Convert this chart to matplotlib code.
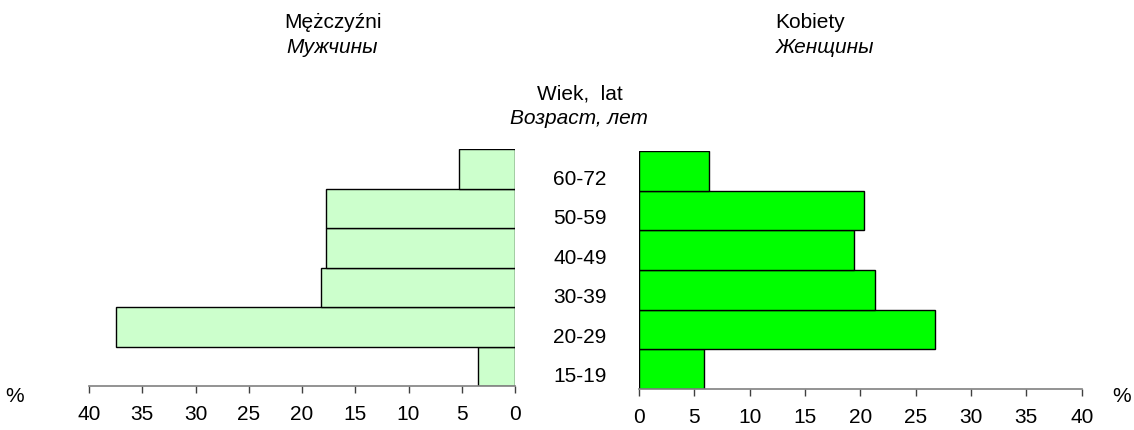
import matplotlib
matplotlib.use("Agg")
import matplotlib.pyplot as plt
import matplotlib.transforms as mtransforms

plt.rcParams['font.family'] = ['Liberation Sans', 'DejaVu Sans']

age_groups = ["15-19", "20-29", "30-39", "40-49", "50-59", "60-72"]
men = [3.5, 37.5, 18.2, 17.7, 17.7, 5.3]
women = [5.9, 26.7, 21.3, 19.4, 20.3, 6.3]
x_ticks = [0, 5, 10, 15, 20, 25, 30, 35, 40]

title_men = ("Mężczyźni", "Мужчины")
title_women = ("Kobiety", "Женщины")
title_age = ("Wiek,  lat", "Возраст, лет")

FS = 15

fig = plt.figure(figsize=(11.34, 4.30), dpi=100)
W, H = 1134, 430

def ax_rect(x0, x1, ytop, ybot):
    return [x0 / W, (H - ybot) / H, (x1 - x0) / W, (ybot - ytop) / H]

axL = fig.add_axes(ax_rect(89, 515, 149, 386))
axR = fig.add_axes(ax_rect(639, 1081.7, 151, 389))

ypos = list(range(len(age_groups)))
axL.barh(ypos, men, height=1.0, color="#CCFFCC", edgecolor="black", linewidth=1.0)
axR.barh(ypos, women, height=1.0, color="#00FF00", edgecolor="black", linewidth=1.0)

for ax in (axL, axR):
    ax.set_ylim(-0.5, len(age_groups) - 0.5)
    ax.set_yticks([])
    for s in ("top", "left", "right"):
        ax.spines[s].set_visible(False)
    ax.spines["bottom"].set_color("#808080")
    ax.spines["bottom"].set_linewidth(1.2)
    ax.set_xticks(x_ticks)
    ax.set_xticklabels([str(t) for t in x_ticks])
    ax.tick_params(axis="x", direction="out", length=5, width=1.0, color="#404040",
                   labelsize=FS, pad=9)

axL.set_xlim(40, 0)
axR.set_xlim(0, 40)

# category labels in the middle (baseline slightly below band centre)
trans = mtransforms.blended_transform_factory(fig.transFigure, axL.transData)
offset = mtransforms.ScaledTranslation(0, -16 / 100, fig.dpi_scale_trans)
for i, g in enumerate(age_groups):
    fig.text(580 / W, i, g, transform=trans + offset, ha="center", va="baseline", fontsize=FS)

# % signs
fig.text(15 / W, (H - 396) / H, "%", ha="center", va="center", fontsize=FS)
fig.text(1122 / W, (H - 396) / H, "%", ha="center", va="center", fontsize=FS)

def ftext(x, ybase, s, italic=False):
    fig.text(x / W, (H - ybase) / H, s, ha="center", va="baseline", fontsize=FS,
             style="italic" if italic else "normal")

ftext(333, 28, title_men[0])
ftext(332, 53, title_men[1], italic=True)
ftext(810, 28, title_women[0])
ftext(825, 53, title_women[1], italic=True)
ftext(580, 99, title_age[0])
ftext(578.5, 124, title_age[1], italic=True)

fig.savefig("out.png", dpi=100)
